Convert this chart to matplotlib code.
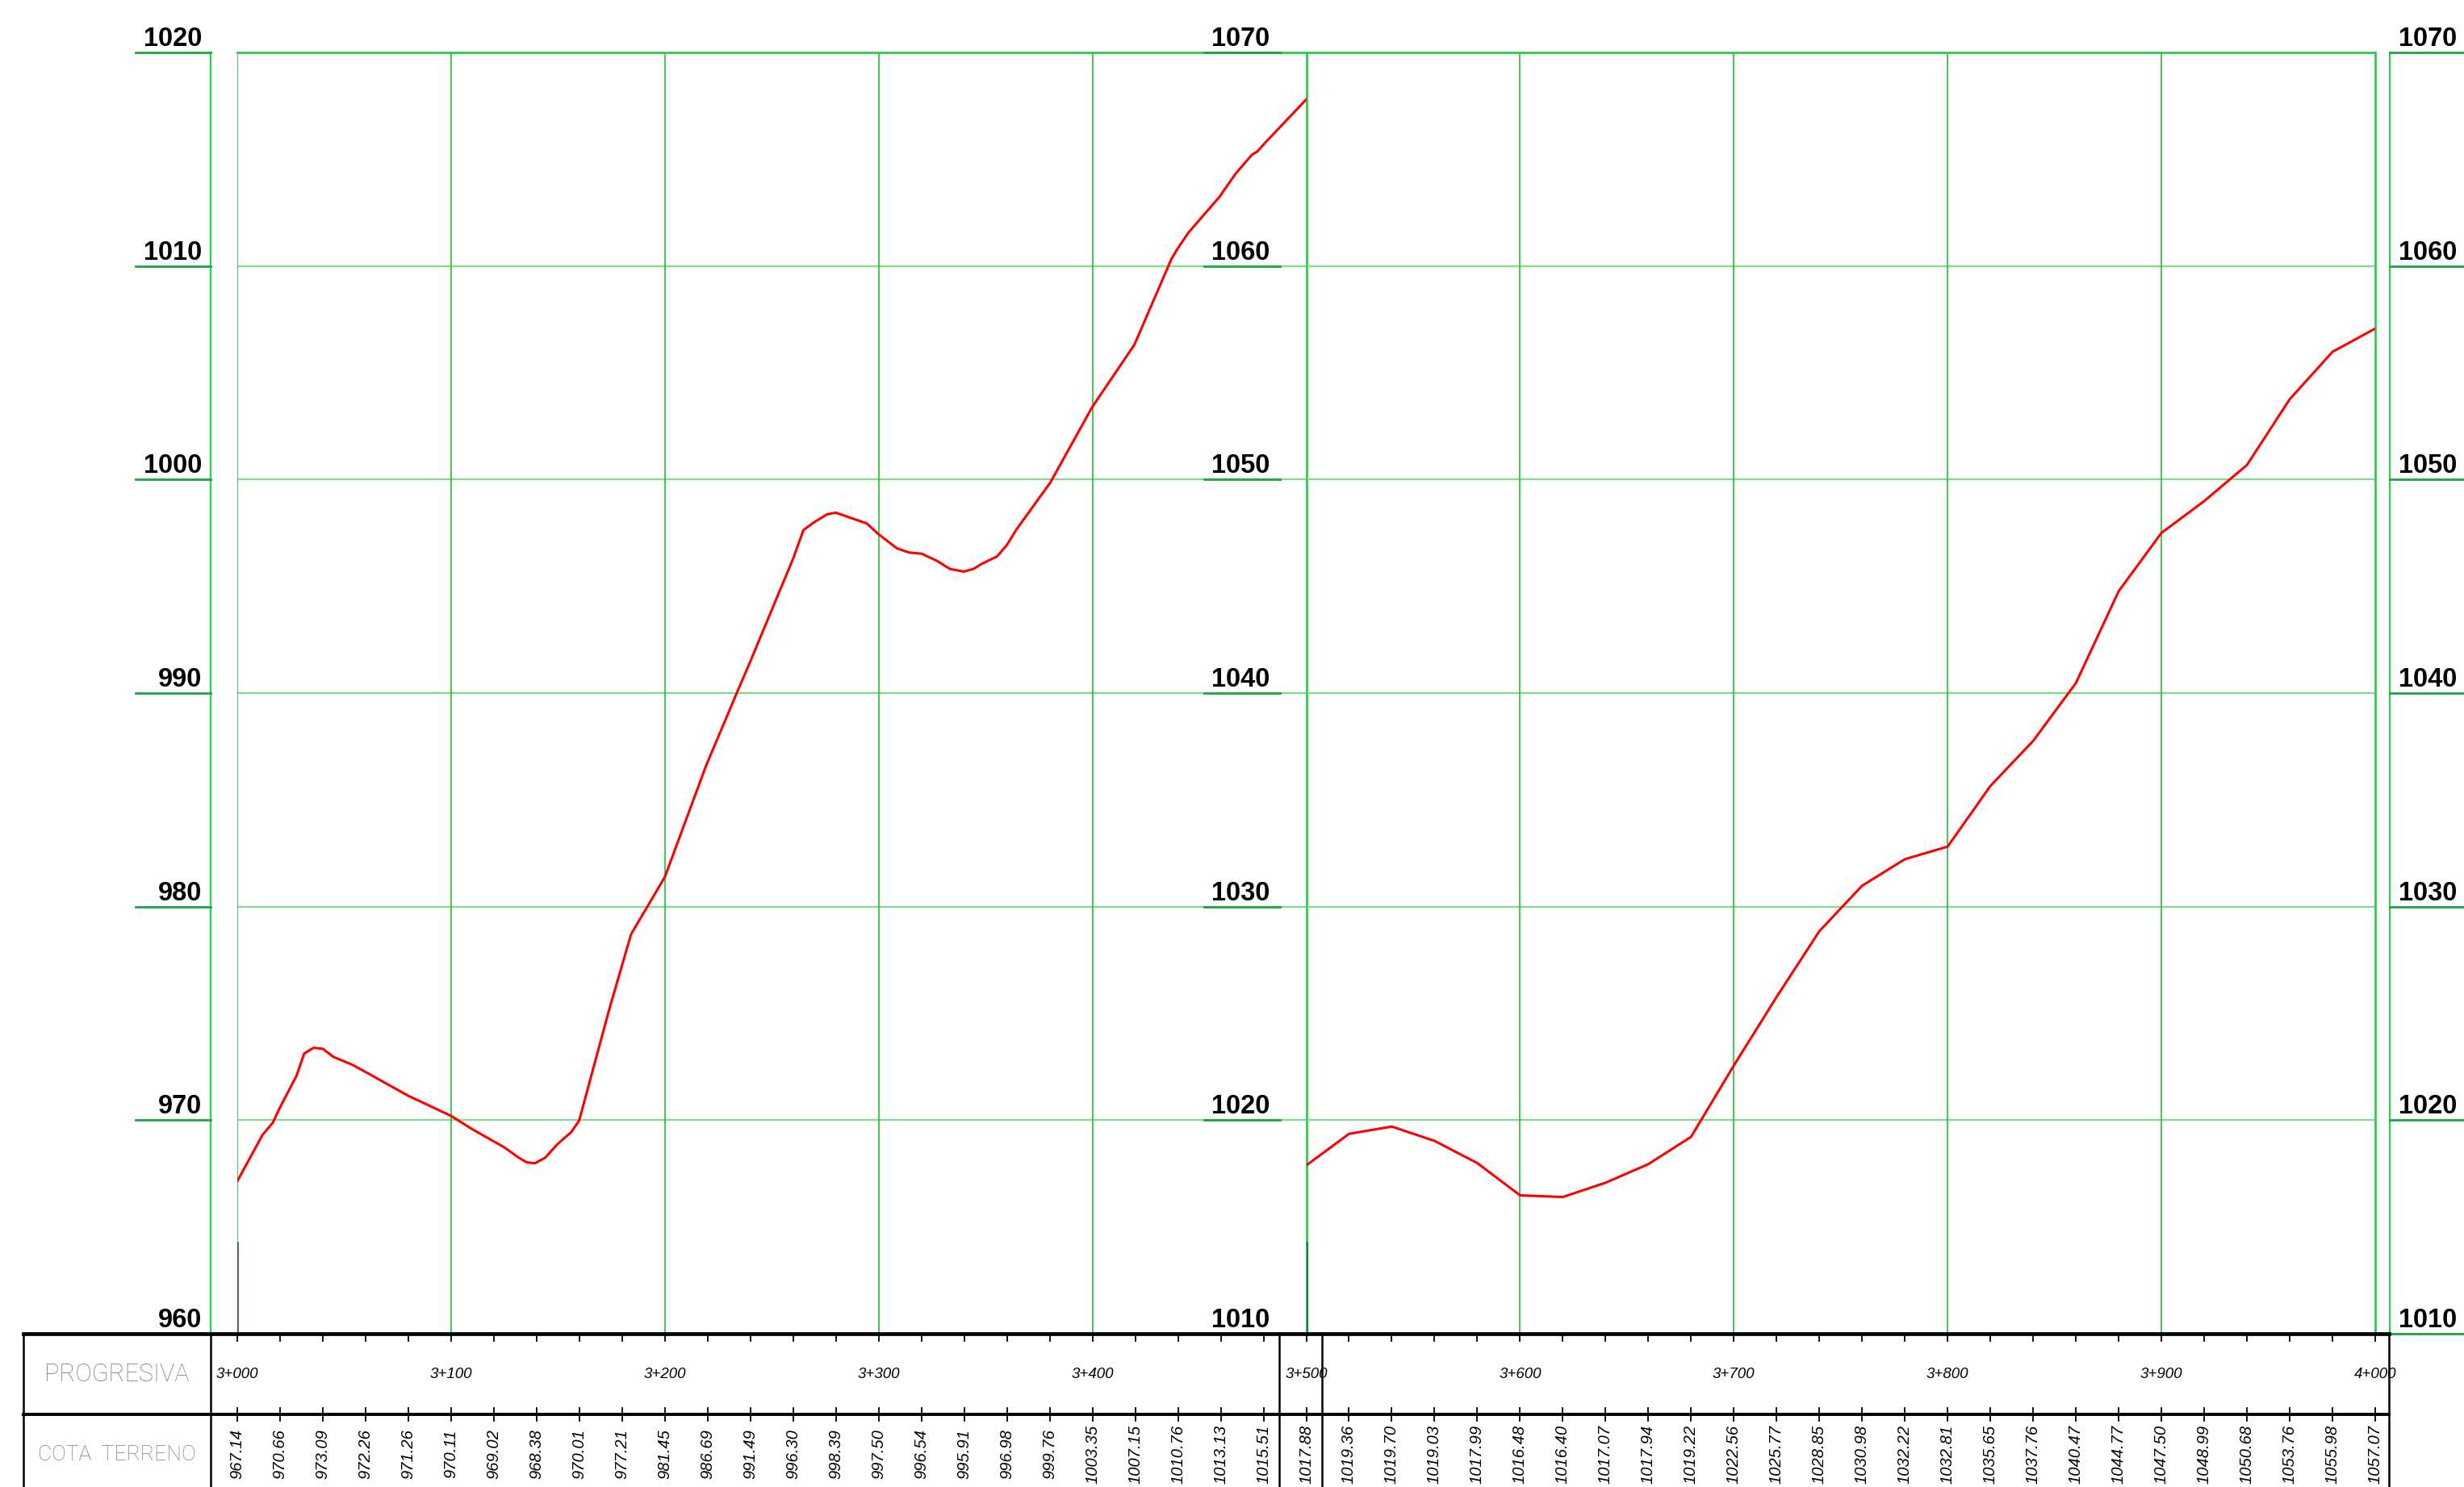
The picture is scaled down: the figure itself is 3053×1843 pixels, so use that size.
import numpy as np
import matplotlib.pyplot as plt
from matplotlib import transforms

# ground profile, sheet 1 (3+000 .. 3+500)
prof_st = [3000.0, 3011.8, 3016.6, 3020.0, 3027.7, 3031.3, 3035.7, 3040.0, 3045.0,
           3053.7, 3061.0, 3080.0, 3100.0, 3110.0, 3124.5, 3131.7, 3135.3, 3139.2,
           3144.0, 3149.8, 3156.3, 3159.9, 3174.1, 3184.2, 3200.0, 3219.2, 3233.4,
           3240.0, 3260.0, 3264.8, 3269.8, 3275.9, 3279.9, 3294.5, 3299.7, 3308.5,
           3314.3, 3320.0, 3327.1, 3333.4, 3339.9, 3344.5, 3348.2, 3355.4, 3360.0,
           3364.5, 3380.3, 3399.8, 3419.6, 3436.9, 3439.4, 3444.8, 3459.5, 3467.0,
           3474.6, 3477.1, 3480.3, 3500.0]
prof_z = [967.14, 969.31, 969.88, 970.60, 972.08, 973.12, 973.39, 973.34, 972.96,
          972.60, 972.20, 971.14, 970.20, 969.57, 968.75, 968.24, 968.03, 967.98,
          968.24, 968.88, 969.45, 969.98, 975.23, 978.71, 981.39, 986.58, 989.95,
          991.49, 996.30, 997.63, 998.00, 998.37, 998.45, 997.94, 997.46, 996.78,
          996.58, 996.53, 996.20, 995.81, 995.69, 995.82, 996.05, 996.40, 996.94,
          997.67, 999.86, 1003.38, 1006.31, 1010.32, 1010.75, 1011.55, 1013.25, 1014.33,
          1015.21, 1015.36, 1015.72, 1017.80]

# table values every 20 m
st_left = list(range(3000, 3501, 20))
st_right = list(range(3500, 4001, 20))
cota_left = [967.14, 970.66, 973.09, 972.26, 971.26, 970.11, 969.02, 968.38, 970.01,
             977.21, 981.45, 986.69, 991.49, 996.30, 998.39, 997.50, 996.54, 995.91,
             996.98, 999.76, 1003.35, 1007.15, 1010.76, 1013.13, 1015.51, 1017.88]
cota_right = [1017.88, 1019.36, 1019.70, 1019.03, 1017.99, 1016.48, 1016.40, 1017.07,
              1017.94, 1019.22, 1022.56, 1025.77, 1028.85, 1030.98, 1032.22, 1032.81,
              1035.65, 1037.76, 1040.47, 1044.77, 1047.50, 1048.99, 1050.68, 1053.76,
              1055.98, 1057.07]

elev_left = [960, 970, 980, 990, 1000, 1010, 1020]
elev_right = [1010, 1020, 1030, 1040, 1050, 1060, 1070]
km_marks = [3000, 3100, 3200, 3300, 3400, 3500, 3600, 3700, 3800, 3900, 4000]

W, H = 3053, 1843
S = (2943 - 294) / 1000.0          # px per metre along the road


def st(px):
    return 3000 + (px - 294) / S


def ty(py):
    return (H - py) / 190.0


VGRID = '#22c035'
HGRID = '#80dc8c'
FRAME = '#2ecc4e'
TICKG = '#1fa53e'
DARKG = '#2f6e3c'
LBL = dict(fontsize=23.5, fontweight='bold', family='Liberation Sans')

fig = plt.figure(figsize=(W / 100, H / 100), dpi=100)

panels = []
for x0, xl, yl in [(294, (3000, 3500), (960, 1020)), (1618.5, (3500, 4000), (1010, 1070))]:
    ax = fig.add_axes([x0 / W, (H - 1653) / H, 1324.5 / W, 1588 / H])
    ax.set_xlim(*xl)
    ax.set_ylim(*yl)
    ax.set_axis_off()
    for y in range(yl[0] + 10, yl[1], 10):
        ax.axhline(y, color=HGRID, lw=1.6, zorder=1)
    for x in range(xl[0] + 100, xl[1], 100):
        ax.axvline(x, color=VGRID, lw=1.2, zorder=1)
    ax.axhline(yl[1], color=FRAME, lw=2.0, zorder=2, clip_on=False)
    ax.axvline(xl[0], color=FRAME, lw=1.3, zorder=2)
    ax.axvline(xl[1], color=FRAME, lw=2.0, zorder=2, clip_on=False)
    # short darker ordinate at the sheet start
    tr = transforms.blended_transform_factory(ax.transData, ax.transAxes)
    ax.plot([xl[0], xl[0]], [0, 0.071], color=DARKG, lw=2.0, transform=tr, zorder=3)
    panels.append(ax)

ax1, ax2 = panels
ax1.plot(prof_st, prof_z, color='#ff0000', lw=2.2, zorder=5)
ax2.plot(st_right, cota_right, color='#ff0000', lw=2.2, zorder=5)

# elevation scales
def scale(ax, levels, x_line, x_seg0, x_seg1, x_txt, ha, vline=True):
    tr = transforms.blended_transform_factory(ax.transAxes, ax.transData)
    tr_txt = transforms.offset_copy(tr, fig=fig, y=8, units='dots')
    if vline:
        ax.plot([x_line, x_line], [levels[0], levels[-1]], color=FRAME, lw=1.6,
                transform=tr, clip_on=False)
    for lev in levels:
        ax.plot([x_seg0, x_seg1], [lev, lev], color=TICKG, lw=2.0, transform=tr,
                clip_on=False, zorder=4)
        ax.text(x_txt, lev, str(lev), transform=tr_txt, ha=ha, va='baseline', **LBL)


f1 = lambda px: (px - 294) / 1324.5
f2 = lambda px: (px - 1618.5) / 1324.5
scale(ax1, elev_left, f1(261), f1(168), f1(261), f1(250), 'right')
scale(ax2, elev_right, 0, f2(1492), f2(1586), f2(1573), 'right', vline=False)
scale(ax2, elev_right, f2(2961), f2(2961), f2(3053), f2(2972), 'left')

# guitarra (data table)
axt = fig.add_axes([0, 0, 1, 190 / H])
axt.set_xlim(st(0), st(W))
axt.set_ylim(0, 1)
axt.set_axis_off()
axt.plot([st(29), st(2960)], [1, 1], color='black', lw=3.4, clip_on=False, zorder=3)
axt.plot([st(29), st(2960)], [ty(1753), ty(1753)], color='black', lw=2.8, clip_on=False)
for px in [29, 261, 1585, 1638, 2960]:
    axt.plot([st(px), st(px)], [0, 1], color='black', lw=1.8, clip_on=False)

all_st = sorted(set(st_left + st_right))
for s in all_st:
    axt.plot([s, s], [ty(1662), 1], color='black', lw=1.3)
    axt.plot([s, s], [ty(1761), ty(1745)], color='black', lw=1.3)

for s in km_marks:
    axt.text(s, ty(1704), '%d+%03d' % (s // 1000, s % 1000), ha='center', va='center',
             fontsize=13.5, style='italic', family='Liberation Sans')

cotas = dict(zip(st_left, cota_left))
cotas.update(zip(st_right, cota_right))
for s in all_st:
    axt.text(s, ty(1802), '%.2f' % cotas[s], rotation=90, ha='center', va='center',
             fontsize=14.5, style='italic', family='Liberation Sans')

axt.text(st(145), ty(1703), 'PROGRESIVA', ha='center', va='center', fontsize=22,
         color='#7c7c7c', family='Roboto', fontweight='light')
axt.text(st(145), ty(1803), 'COTA  TERRENO', ha='center', va='center', fontsize=19,
         color='#7c7c7c', family='Roboto', fontweight='light')

plt.savefig('out.png', dpi=100, facecolor='white')
